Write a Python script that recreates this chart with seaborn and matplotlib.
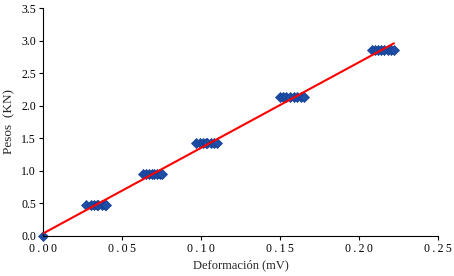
import numpy as np
import pandas as pd
import matplotlib
matplotlib.use("Agg")
import matplotlib.pyplot as plt
import seaborn as sns

# Data
deformacion = [0.000,
               0.027, 0.030, 0.032, 0.034, 0.035, 0.037, 0.039, 0.040,
               0.063, 0.065, 0.067, 0.069, 0.070, 0.072, 0.074, 0.075,
               0.097, 0.099, 0.101, 0.103, 0.104, 0.106, 0.108, 0.110,
               0.150, 0.152, 0.154, 0.156, 0.159, 0.161, 0.163, 0.165,
               0.208, 0.210, 0.212, 0.214, 0.216, 0.218, 0.220, 0.222]
pesos = [0.0] + [0.47] * 8 + [0.95] * 8 + [1.42] * 8 + [2.13] * 8 + [2.85] * 8

x_ticks = [0.00, 0.05, 0.10, 0.15, 0.20, 0.25]
x_tick_labels = ["0.00", "0.05", "0.10", "0.15", "0.20", "0.25"]
y_ticks = [0.0, 0.5, 1.0, 1.5, 2.0, 2.5, 3.0, 3.5]
y_tick_labels = ["0.0", "0.5", "1.0", "1.5", "2.0", "2.5", "3.0", "3.5"]

df = pd.DataFrame({"x": deformacion, "y": pesos})

sns.set_style("white")
plt.rcParams["font.family"] = ["Liberation Serif", "DejaVu Serif"]

fig = plt.figure(figsize=(4.54, 2.76), dpi=100)
ax = fig.add_axes([0.095, 0.145, 0.870, 0.826])

# linear trend
slope, intercept = np.polyfit(df["x"], df["y"], 1)
fit = pd.DataFrame({"x": [df["x"].min(), df["x"].max()]})
fit["y"] = slope * fit["x"] + intercept

sns.scatterplot(data=df, x="x", y="y", ax=ax, marker="D", s=26,
                color="#1F4FA8", edgecolor="#123A8C", linewidth=0.5, zorder=2,
                clip_on=False)
sns.lineplot(data=fit, x="x", y="y", ax=ax, color="#FF0000", linewidth=1.5, zorder=3)

ax.set_xlim(0, 0.25)
ax.set_ylim(0, 3.5)
ax.set_xticks(x_ticks)
ax.set_xticklabels(["\u2009".join(t) for t in x_tick_labels])
ax.set_yticks(y_ticks)
ax.set_yticklabels(y_tick_labels)
ax.tick_params(axis="both", direction="out", length=3, width=0.8, labelsize=8.5,
               colors="black", bottom=True, left=True, pad=2)
ax.set_xlabel("Deformación (mV)", fontsize=9, labelpad=3)
ax.set_ylabel("Pesos  (KN)", fontsize=9.5, labelpad=4)
sns.despine(ax=ax)
for s in ["left", "bottom"]:
    ax.spines[s].set_color("black")
    ax.spines[s].set_linewidth(0.8)

fig.savefig("out.png", dpi=100)
